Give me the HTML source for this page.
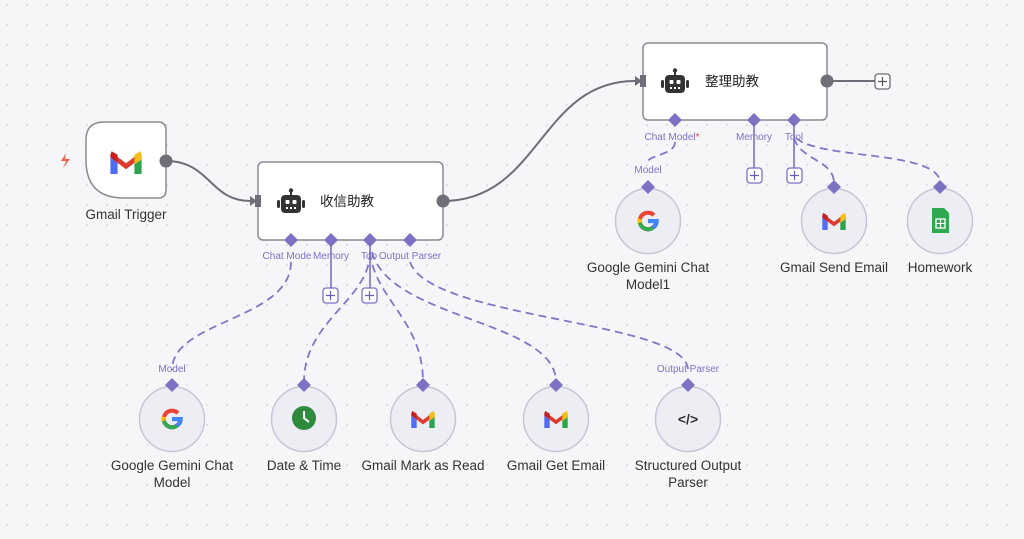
<!DOCTYPE html>
<html><head><meta charset="utf-8"><style>
html,body{margin:0;padding:0;background:#f6f6f9;}
svg{display:block;font-family:"Liberation Sans","Noto Sans CJK SC",sans-serif;}
</style></head><body>
<svg width="1024" height="539" viewBox="0 0 1024 539" xmlns="http://www.w3.org/2000/svg">
<defs>
<pattern id="dots" width="20" height="20" patternUnits="userSpaceOnUse" x="6" y="4">
<circle cx="1" cy="1" r="0.9" fill="#cfcfd8"/>
</pattern>
<symbol id="gm" viewBox="0 0 26 20">
<path d="M0 4 L0 20 L6 20 L6 8 Z" fill="#4f6df5"/>
<path d="M26 4 L26 20 L20 20 L20 8 Z" fill="#2fa44f"/>
<path d="M1 2 L13 11 L25 2 L25 7 L13 16 L1 7 Z" fill="#dd3b30"/>
<path d="M20 4 L25 1 L26 4 L26 8 L20 12 Z" fill="#f4bd1c"/>
<path d="M0 4 L1 1 L6 4 L6 10 L0 6 Z" fill="#c5221f"/>
</symbol>
<symbol id="gg" viewBox="0 0 24 24">
<path d="M21 12 A9 9 0 1 1 18.4 5.6" fill="none" stroke="#ea4335" stroke-width="4.5"/>
<path d="M5.5 18 A9 9 0 0 1 3.2 9.5" fill="none" stroke="#fbbc05" stroke-width="4.5"/>
<path d="M3.2 14 A9 9 0 0 0 17 19.5" fill="none" stroke="#34a853" stroke-width="4.5"/>
<path d="M12 12 L21.5 12 A9 9 0 0 1 17 19.5" fill="none" stroke="#4285f4" stroke-width="4.5"/>
<rect x="12" y="9.8" width="9.5" height="4.4" fill="#4285f4"/>
</symbol>
<symbol id="bot" viewBox="0 0 28 26">
<circle cx="14" cy="2.5" r="2.2" fill="#333"/>
<rect x="13" y="3" width="2" height="4" fill="#333"/>
<rect x="4" y="7" width="20" height="18" rx="4" fill="#333"/>
<rect x="0" y="12" width="3" height="8" rx="1.5" fill="#333"/>
<rect x="25" y="12" width="3" height="8" rx="1.5" fill="#333"/>
<rect x="8.5" y="12" width="4" height="4" rx="1" fill="#fff"/>
<rect x="15.5" y="12" width="4" height="4" rx="1" fill="#fff"/>
<rect x="9" y="19" width="2" height="2" fill="#fff"/><rect x="13" y="19" width="2" height="2" fill="#fff"/><rect x="17" y="19" width="2" height="2" fill="#fff"/>
</symbol>
</defs>
<rect width="1024" height="539" fill="url(#dots)"/>

<g fill="none" stroke="#6e6e78" stroke-width="2">
<path d="M166 161 C 210 161, 210 201, 250 201"/>
<path d="M443 201 C 540 201, 540 81, 635 81"/>
<path d="M827 81 L875 81"/>
</g>
<path d="M250 196 L257 201 L250 206 Z" fill="#6e6e78"/>
<path d="M635 76 L642 81 L635 86 Z" fill="#6e6e78"/>

<g fill="none" stroke="#8276c8" stroke-width="1.8" stroke-dasharray="8 5">
<path d="M291 262 C 291 320, 172 320, 172 370"/>
<path d="M370 252 C 370 300, 304 320, 304 382"/>
<path d="M370 252 C 375 300, 423 320, 423 382"/>
<path d="M372 252 C 390 320, 556 320, 556 382"/>
<path d="M410 262 C 430 320, 688 320, 688 370"/>
<path d="M675 142 C 675 155, 648 155, 648 162"/>
<path d="M794 138 C 800 160, 834 160, 834 183"/>
<path d="M796 138 C 820 160, 940 150, 940 183"/>
</g>
<g stroke="#7d71c4" stroke-width="1.6">
<line x1="331" y1="244" x2="331" y2="288"/>
<line x1="370" y1="244" x2="370" y2="288"/>
<line x1="754" y1="124" x2="754" y2="168"/>
<line x1="794" y1="124" x2="794" y2="168"/>
</g>

<path d="M104 122 L158 122 Q166 122 166 130 L166 190 Q166 198 158 198 L124 198 Q86 198 86 160 L86 140 Q86 122 104 122 Z" fill="#fff" stroke="#8a8a92" stroke-width="1.5"/>
<use href="#gm" x="110" y="150" width="32" height="24"/>
<circle cx="166" cy="161" r="6.5" fill="#6e6e78"/>
<path d="M66 153 L61 161 L66 161 L63 168 L70 159 L65 159 Z" fill="#f0624f"/>
<text x="126" y="219" font-size="13.5" fill="#333" text-anchor="middle">Gmail Trigger</text>

<rect x="258" y="162" width="185" height="78" rx="5" fill="#fff" stroke="#8a8a92" stroke-width="1.5"/>
<rect x="255" y="195" width="6" height="12" fill="#6e6e78"/>
<circle cx="443" cy="201" r="6.5" fill="#6e6e78"/>
<use href="#bot" x="277" y="188" width="28" height="26"/>
<text x="320" y="206" font-size="13.5" fill="#222">收信助教</text>

<rect x="643" y="43" width="184" height="77" rx="5" fill="#fff" stroke="#8a8a92" stroke-width="1.5"/>
<rect x="640" y="75" width="6" height="12" fill="#6e6e78"/>
<circle cx="827" cy="81" r="6.5" fill="#6e6e78"/>
<use href="#bot" x="661" y="68" width="28" height="26"/>
<text x="705" y="86" font-size="13.5" fill="#222">整理助教</text>

<g fill="#fff" stroke="#6e6e78" stroke-width="1.3">
<rect x="875" y="74" width="15" height="15" rx="3"/>
</g>
<g fill="#fff" stroke="#7d71c4" stroke-width="1.3">
<rect x="323" y="288" width="15" height="15" rx="3"/>
<rect x="362" y="288" width="15" height="15" rx="3"/>
<rect x="747" y="168" width="15" height="15" rx="3"/>
<rect x="787" y="168" width="15" height="15" rx="3"/>
</g>
<g stroke="#555" stroke-width="1.2">
<path d="M878 81.5 H887 M882.5 77 V86"/>
</g>
<g stroke="#6a5fb5" stroke-width="1.2">
<path d="M326 295.5 H335 M330.5 291 V300"/>
<path d="M365 295.5 H374 M369.5 291 V300"/>
<path d="M750 175.5 H759 M754.5 171 V180"/>
<path d="M790 175.5 H799 M794.5 171 V180"/>
</g>

<g fill="#7d71c4">
<path d="M291 233 l7 7 l-7 7 l-7 -7 Z"/>
<path d="M331 233 l7 7 l-7 7 l-7 -7 Z"/>
<path d="M370 233 l7 7 l-7 7 l-7 -7 Z"/>
<path d="M410 233 l7 7 l-7 7 l-7 -7 Z"/>
<path d="M675 113 l7 7 l-7 7 l-7 -7 Z"/>
<path d="M754 113 l7 7 l-7 7 l-7 -7 Z"/>
<path d="M794 113 l7 7 l-7 7 l-7 -7 Z"/>
</g>
<g font-size="10" fill="#7d71c4" text-anchor="middle">
<text x="287" y="259">Chat Mode</text>
<text x="331" y="259">Memory</text>
<text x="369" y="259">Too</text>
<text x="410" y="259">Output Parser</text>
<text x="672" y="140">Chat Model<tspan fill="#e53935">*</tspan></text>
<text x="754" y="140">Memory</text>
<text x="794" y="140">Tool</text>
<text x="172" y="372">Model</text>
<text x="688" y="372">Output Parser</text>
<text x="648" y="173">Model</text>
</g>

<g fill="#ededf4" stroke="#c5c5d6" stroke-width="1.5">
<circle cx="172" cy="419" r="32.5"/>
<circle cx="304" cy="419" r="32.5"/>
<circle cx="423" cy="419" r="32.5"/>
<circle cx="556" cy="419" r="32.5"/>
<circle cx="688" cy="419" r="32.5"/>
<circle cx="648" cy="221" r="32.5"/>
<circle cx="834" cy="221" r="32.5"/>
<circle cx="940" cy="221" r="32.5"/>
</g>
<g fill="#7d71c4">
<path d="M172 378 l7 7 l-7 7 l-7 -7 Z"/>
<path d="M304 378 l7 7 l-7 7 l-7 -7 Z"/>
<path d="M423 378 l7 7 l-7 7 l-7 -7 Z"/>
<path d="M556 378 l7 7 l-7 7 l-7 -7 Z"/>
<path d="M688 378 l7 7 l-7 7 l-7 -7 Z"/>
<path d="M648 180 l7 7 l-7 7 l-7 -7 Z"/>
<path d="M834 180 l7 7 l-7 7 l-7 -7 Z"/>
<path d="M940 180 l7 7 l-7 7 l-7 -7 Z"/>
</g>
<use href="#gg" x="161" y="408" width="22" height="22"/>
<use href="#gg" x="637" y="210" width="22" height="22"/>
<circle cx="304" cy="418" r="12" fill="#2e8b3e"/>
<path d="M304 411 V418 L309 422" fill="none" stroke="#fff" stroke-width="2"/>
<use href="#gm" x="411" y="410" width="24" height="18"/>
<use href="#gm" x="544" y="410" width="24" height="18"/>
<use href="#gm" x="822" y="212" width="24" height="18"/>
<text x="688" y="424" font-size="14" font-weight="bold" fill="#333" text-anchor="middle">&lt;/&gt;</text>
<path d="M932 208 L944 208 L949 213 L949 233 L932 233 Z" fill="#2fa84f"/>
<rect x="936" y="219" width="9" height="9" fill="none" stroke="#fff" stroke-width="1.3"/>
<path d="M936 223.5 H945 M940.5 219 V228" stroke="#fff" stroke-width="1.1"/>

<g font-size="13.5" fill="#333" text-anchor="middle">
<text x="172" y="470">Google Gemini Chat</text>
<text x="172" y="487">Model</text>
<text x="304" y="470">Date &amp; Time</text>
<text x="423" y="470">Gmail Mark as Read</text>
<text x="556" y="470">Gmail Get Email</text>
<text x="688" y="470">Structured Output</text>
<text x="688" y="487">Parser</text>
<text x="648" y="272">Google Gemini Chat</text>
<text x="648" y="289">Model1</text>
<text x="834" y="272">Gmail Send Email</text>
<text x="940" y="272">Homework</text>
</g>
</svg>
</body></html>
